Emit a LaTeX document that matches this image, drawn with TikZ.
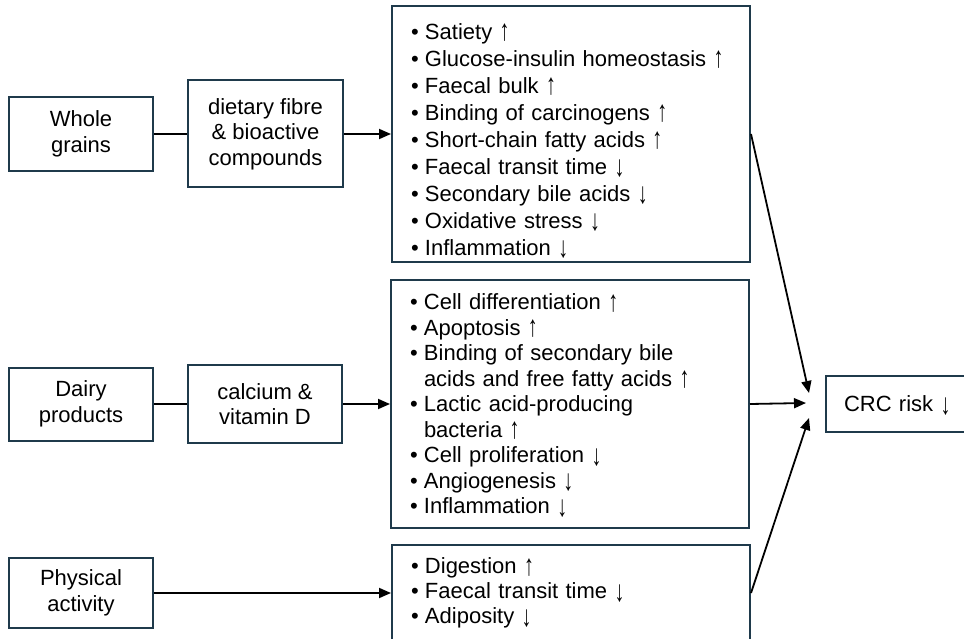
\documentclass[tikz,border=0pt]{standalone}
\usepackage{fontspec}
\setmainfont{Liberation Sans}
\usepackage{xcolor}
\usepackage{graphicx}
\usepackage{tikz}
\usetikzlibrary{arrows.meta,positioning}
\definecolor{DeepNavy}{HTML}{1F3A4B}
\newcommand{\itm}[1]{\makebox[14pt][l]{•}#1}
\newcommand{\cnt}[1]{\hspace*{14pt}#1}
\newcommand{\up}{\smash{\raisebox{-1.5pt}{\scalebox{0.9}[1.35]{↑}}}}
\newcommand{\dn}{\smash{\raisebox{-2.5pt}{\scalebox{0.9}[1.35]{↓}}}}

\begin{document}
\begin{tikzpicture}[x=1pt,y=-1pt,node distance=33pt,
  font=\fontsize{22}{25.5}\selectfont,
  box/.style={draw=DeepNavy,line width=2pt,align=center,inner sep=0pt},
  list/.style={box,align=left,text width=320pt,inner xsep=19pt,minimum width=358pt},
  link/.style={line width=1.8pt},
  arr/.style={link,-{Triangle[length=12pt,width=10pt]}}]
\useasboundingbox (0,0) rectangle (964,639);

\node[box,minimum width=144pt,minimum height=74pt] (wg) at (81,134) {Whole\\grains};
\node[box,minimum width=155pt,minimum height=107pt,right=33pt of wg] (fib) {dietary fibre\\\& bioactive\\compounds};
\node[list,minimum height=256pt,right=47pt of fib,font=\fontsize{22}{27}\selectfont] (e1)
{\itm{\rule{0pt}{27pt}Satiety \up}\\
 \itm{Glucose-insulin homeostasis \up}\\
 \itm{Faecal bulk \up}\\
 \itm{Binding of carcinogens \up}\\
 \itm{Short-chain fatty acids \up}\\
 \itm{Faecal transit time \dn}\\
 \itm{Secondary bile acids \dn}\\
 \itm{Oxidative stress \dn}\\
 \itm{Inflammation \dn}};

\node[box,minimum width=144pt,minimum height=73pt] (dp) at (81,404) {Dairy\\products};
\node[box,minimum width=154pt,minimum height=78pt,right=33pt of dp] (cal) {calcium \&\\vitamin D};
\node[list,minimum height=248pt,right=47pt of cal] (e2)
{\itm{Cell differentiation \up}\\
 \itm{Apoptosis \up}\\
 \itm{Binding of secondary bile}\\
 \cnt{acids and free fatty acids \up}\\
 \itm{Lactic acid-producing}\\
 \cnt{bacteria \up}\\
 \itm{Cell proliferation \dn}\\
 \itm{Angiogenesis \dn}\\
 \itm{Inflammation \dn}};

\node[box,minimum width=144pt,minimum height=70pt] (pa) at (81,593) {Physical\\activity};
\node[list,minimum height=96pt,anchor=west,font=\fontsize{22}{25}\selectfont] (e3) at (pa.east -| e1.west)
{\itm{Digestion \up}\\
 \itm{Faecal transit time \dn}\\
 \itm{Adiposity \dn}};

\node[box,anchor=west,align=left,text width=130pt,inner xsep=18pt,minimum height=56pt] (crc) at (825,404) {CRC risk \dn};

\coordinate (t1) at (809,393);
\coordinate (t2) at (806,403);
\coordinate (t3) at (809,418);

\draw[link] (wg) -- (fib);
\draw[arr] (fib) -- (e1);
\draw[link] (dp) -- (cal);
\draw[arr] (cal) -- (e2);
\draw[arr] (pa) -- (e3);
\draw[arr] (e1.east) -- (t1);
\draw[arr] (e2.east) -- (t2);
\draw[arr] (e3.east) -- (t3);
\end{tikzpicture}
\end{document}
